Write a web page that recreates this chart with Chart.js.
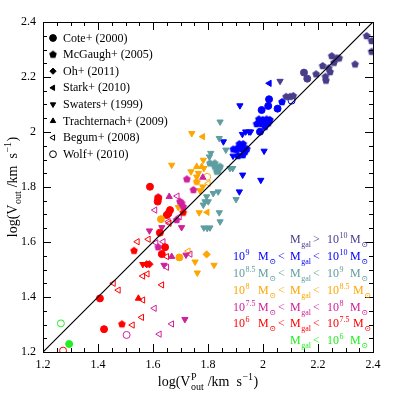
<!DOCTYPE html>
<html>
<head>
<meta charset="utf-8">
<script src="https://cdn.jsdelivr.net/npm/chart.js@4.4.0/dist/chart.umd.min.js"></script>
<style>
  html, body { margin: 0; padding: 0; background: #fff; }
</style>
</head>
<body>
<canvas id="vout-chart" width="395" height="395"></canvas>
<script>
// mass bins: 0 <1e6, 1 1e6-1e7.5, 2 1e7.5-1e8, 3 1e8-1e8.5, 4 1e8.5-1e9, 5 1e9-1e10, 6 >1e10
const binColors = ['#22ee22', '#ff0000', '#d0209a', '#ffa500', '#5f9ea0', '#0000ff', '#483d8b'];

const axisTicks = [1.2, 1.4, 1.6, 1.8, 2, 2.2, 2.4];

// [log Vp_out, log V_out, mass bin]
const cote = [
  [1.589,1.801,1],[1.619,1.759,1],[1.617,1.747,1],[1.662,1.716,1],[1.656,1.704,1],[1.650,1.698,1],
  [1.625,1.634,1],[1.644,1.581,1],[1.632,1.556,1],[1.407,1.395,1],[1.422,1.283,1],
  [1.629,1.683,3],[1.696,1.544,3],
  [2.022,2.119,5],[2.019,2.095,5],[1.995,2.080,5],[2.053,2.085,5],[1.989,2.001,5],
  [2.149,2.216,6],[2.161,2.194,6],
  [1.295,1.229,0]
];
const mcgaugh = [
  [2.377,2.349,6],[2.395,2.331,6],[2.395,2.292,6],[2.250,2.276,6],[2.268,2.268,6],[2.277,2.268,6],
  [2.258,2.252,6],[2.217,2.240,6],[2.335,2.246,6],[2.239,2.232,6],[2.244,2.218,6],[2.193,2.210,6],
  [2.227,2.201,6],[2.229,2.187,6],[2.084,2.128,6],[2.098,2.128,6],[2.110,2.131,6],
  [2.069,2.109,5],[1.985,2.046,5],[1.999,2.044,5],[2.013,2.046,5],[2.025,2.044,5],[1.977,2.029,5],
  [1.995,2.029,5],[2.011,2.029,5],[2.019,2.032,5],[2.007,2.019,5],[1.914,1.956,5],[1.928,1.956,5],
  [1.910,1.943,5],[1.923,1.938,5],[1.941,1.938,5],[1.935,1.928,5],[1.904,1.935,5],[1.892,1.937,5],
  [1.909,1.913,5],[1.927,1.916,5],
  [1.807,1.886,4],[1.825,1.874,4],[1.844,1.874,4],[1.832,1.856,4],[1.825,1.886,4],[1.837,1.859,4],
  [1.759,1.819,3],
  [1.723,1.828,2],[1.747,1.789,2],[1.619,1.763,2],[1.698,1.747,2],[1.704,1.741,2],[1.710,1.728,2],
  [1.686,1.680,2],[1.619,1.581,2],
  [1.710,1.707,1],[1.531,1.568,1],[1.487,1.301,1]
];
const oh = [[1.795,1.555,3],[1.577,1.519,1],[1.587,1.519,1]];
const stark = [[2.023,2.177,5],[1.781,1.983,3],[1.797,1.708,3]];
const swaters = [
  [2.062,2.185,6],
  [1.916,2.096,5],[1.937,2.001,5],[1.949,2.001,5],[1.955,2.001,5],[1.925,1.992,5],[1.856,1.965,5],
  [2.004,1.931,5],[1.926,1.844,5],[1.992,1.825,5],[1.914,1.783,5],[1.891,1.913,5],
  [1.844,2.037,4],[1.841,1.977,4],[1.865,1.935,4],[1.810,1.923,4],[1.890,1.868,4],[1.880,1.868,4],
  [1.805,1.910,4],[1.837,1.783,4],[1.819,1.777,4],[1.795,1.765,4],[1.789,1.747,4],[1.801,1.747,4],
  [1.783,1.735,4],[1.902,1.755,4],[1.844,1.674,4],[1.785,1.652,4],[1.807,1.652,4],[1.797,1.650,4],
  [1.841,1.707,4],
  [1.741,1.995,3],[1.668,1.880,3],[1.783,1.898,3],[1.785,1.868,3],[1.759,1.837,3],[1.738,1.856,3],
  [1.765,1.850,3],[1.781,1.801,3],[1.771,1.787,3],[1.692,1.726,3],[1.768,1.707,3],[1.753,1.528,3],
  [1.822,1.516,3],[1.761,1.488,3],
  [1.704,1.653,2],[1.587,1.641,2],[1.632,1.653,2],[1.720,1.553,2],[1.640,1.516,2],[1.716,1.319,2],
  [1.563,1.519,1]
];
const trachternach = [[1.759,1.874,3],[1.777,1.874,3],[1.781,1.835,2],[1.659,1.765,2],[1.668,1.547,2],[1.547,1.395,1]];
const begum = [
  [1.728,1.567,3],[1.801,1.813,3],
  [1.688,1.767,2],[1.607,1.716,2],[1.696,1.692,2],[1.656,1.674,2],[1.611,1.597,2],[1.637,1.601,2],
  [1.735,1.556,2],[1.650,1.508,2],[1.605,1.359,2],[1.668,1.302,2],[1.623,1.265,2],
  [1.543,1.601,1],[1.583,1.610,1],[1.650,1.547,1],[1.563,1.476,1],[1.579,1.484,1],[1.456,1.450,1],
  [1.474,1.425,1],[1.632,1.444,1],[1.563,1.389,1],[1.559,1.326,1],[1.525,1.298,1],[1.659,1.668,1]
];
const wolf = [[1.797,1.837,3],[2.104,2.114,5],[1.504,1.262,2],[1.273,1.205,1],[1.265,1.304,0]];

const SERIF = '"Liberation Serif", "DejaVu Serif", serif';

// filled pentagon marker as a small canvas
function pentagon(color, r) {
  const size = Math.ceil(2 * r + 2);
  const c = document.createElement('canvas');
  c.width = c.height = size;
  const g = c.getContext('2d');
  g.fillStyle = color;
  g.beginPath();
  for (let i = 0; i < 5; i++) {
    const a = -Math.PI / 2 + i * 2 * Math.PI / 5;
    const px = size / 2 + r * Math.cos(a), py = size / 2 + r * Math.sin(a);
    i ? g.lineTo(px, py) : g.moveTo(px, py);
  }
  g.closePath();
  g.fill();
  return c;
}
const pentImgs = binColors.map(c => pentagon(c, 4));
const pentBlack = pentagon('#000', 4);

const toPts = arr => arr.map(p => ({ x: p[0], y: p[1], b: p[2] }));
const colOf = ctx => ctx.raw ? binColors[ctx.raw.b] : '#000';

function survey(label, arr, style, rotation, open) {
  return {
    type: 'scatter',
    label: label,
    data: toPts(arr),
    pointStyle: style === 'pent' ? (ctx => ctx.raw ? pentImgs[ctx.raw.b] : 'circle') : style,
    rotation: rotation,
    pointRadius: style === 'circle' ? 3.5 : 3.6,
    pointBorderWidth: 1,
    pointBorderColor: colOf,
    pointBackgroundColor: open ? 'rgba(0,0,0,0)' : colOf
  };
}

const surveys = [
  { label: 'Cote+ (2000)', arr: cote, style: 'circle', rot: 0, open: false },
  { label: 'McGaugh+ (2005)', arr: mcgaugh, style: 'pent', rot: 0, open: false },
  { label: 'Oh+ (2011)', arr: oh, style: 'rectRot', rot: 0, open: false },
  { label: 'Stark+ (2010)', arr: stark, style: 'triangle', rot: -90, open: false },
  { label: 'Swaters+ (1999)', arr: swaters, style: 'triangle', rot: 180, open: false },
  { label: 'Trachternach+ (2009)', arr: trachternach, style: 'triangle', rot: 0, open: false },
  { label: 'Begum+ (2008)', arr: begum, style: 'triangle', rot: -90, open: true },
  { label: 'Wolf+ (2010)', arr: wolf, style: 'circle', rot: 0, open: true }
];

// rich text: parts = [text, mode, extra]; mode n / sup / sub / both (sup=text, sub=extra)
function richWidth(ctx, parts, size) {
  const small = Math.round(size * 0.68);
  let w = 0;
  parts.forEach(p => {
    if (p[1] === 'n') { ctx.font = size + 'px ' + SERIF; w += ctx.measureText(p[0]).width; }
    else {
      ctx.font = small + 'px ' + SERIF;
      const a = ctx.measureText(p[0]).width;
      const b = p[1] === 'both' ? ctx.measureText(p[2]).width : 0;
      w += Math.max(a, b) + 1;
    }
  });
  return w;
}
function drawRich(ctx, parts, x, y, size) {
  const small = Math.round(size * 0.68);
  ctx.textBaseline = 'alphabetic';
  ctx.textAlign = 'left';
  parts.forEach(p => {
    if (p[1] === 'n') {
      ctx.font = size + 'px ' + SERIF;
      ctx.fillText(p[0], x, y);
      x += ctx.measureText(p[0]).width;
    } else {
      ctx.font = small + 'px ' + SERIF;
      let w = 0;
      if (p[1] === 'sup' || p[1] === 'both') {
        ctx.fillText(p[0], x + 0.5, y - size * 0.42);
        w = ctx.measureText(p[0]).width;
      }
      if (p[1] === 'sub') {
        ctx.fillText(p[0], x + 0.5, y + size * 0.3);
        w = ctx.measureText(p[0]).width;
      }
      if (p[1] === 'both') {
        ctx.fillText(p[2], x + 0.5, y + size * 0.3);
        w = Math.max(w, ctx.measureText(p[2]).width);
      }
      x += w + 1;
    }
  });
}

// mass-bin captions, bottom right
const MS = ['M', 'n'], SUN = ['\u2299', 'sub'], MGAL = ['gal', 'sub'];
const binCaptions = [
  { color: binColors[6], y: 243, cells: [[290, [MS, MGAL]], [313, [['>', 'n']]], [327, [['10', 'n'], ['10', 'sup']]], [350, [MS, SUN]]] },
  { color: binColors[5], y: 260, cells: [[233, [['10', 'n'], ['9', 'sup']]], [258, [MS, SUN]], [278, [['<', 'n']]], [290, [MS, MGAL]], [313, [['<', 'n']]], [327, [['10', 'n'], ['10', 'sup']]], [350, [MS, SUN]]] },
  { color: binColors[4], y: 277, cells: [[233, [['10', 'n'], ['8.5', 'sup']]], [258, [MS, SUN]], [278, [['<', 'n']]], [290, [MS, MGAL]], [313, [['<', 'n']]], [327, [['10', 'n'], ['9', 'sup']]], [350, [MS, SUN]]] },
  { color: binColors[3], y: 294, cells: [[233, [['10', 'n'], ['8', 'sup']]], [258, [MS, SUN]], [278, [['<', 'n']]], [290, [MS, MGAL]], [313, [['<', 'n']]], [327, [['10', 'n'], ['8.5', 'sup']]], [353, [MS, SUN]]] },
  { color: binColors[2], y: 311, cells: [[233, [['10', 'n'], ['7.5', 'sup']]], [258, [MS, SUN]], [278, [['<', 'n']]], [290, [MS, MGAL]], [313, [['<', 'n']]], [327, [['10', 'n'], ['8', 'sup']]], [350, [MS, SUN]]] },
  { color: binColors[1], y: 327, cells: [[233, [['10', 'n'], ['6', 'sup']]], [258, [MS, SUN]], [278, [['<', 'n']]], [290, [MS, MGAL]], [313, [['<', 'n']]], [327, [['10', 'n'], ['7.5', 'sup']]], [353, [MS, SUN]]] },
  { color: binColors[0], y: 344, cells: [[290, [MS, MGAL]], [313, [['<', 'n']]], [327, [['10', 'n'], ['6', 'sup']]], [350, [MS, SUN]]] }
];

const xTitle = [['log(V', 'n'], ['P', 'both', 'out'], [' /km  s', 'n'], ['\u22121', 'sup'], [')', 'n']];
const yTitle = [['log(V', 'n'], ['out', 'sub'], [' /km  s', 'n'], ['\u22121', 'sup'], [')', 'n']];

const framePlugin = {
  id: 'frame',
  afterDatasetsDraw(chart) {
    const { ctx, chartArea: a, scales: { x, y } } = chart;
    ctx.save();
    ctx.strokeStyle = '#000';
    ctx.lineWidth = 1;
    ctx.strokeRect(a.left + 0.5, a.top + 0.5, a.right - a.left, a.bottom - a.top);
    ctx.beginPath();
    for (let i = 0; i <= 24; i++) {
      const v = 1.2 + i * 0.05;
      const len = i % 4 === 0 ? 8 : 4;
      const px = Math.round(x.getPixelForValue(v)) + 0.5;
      const py = Math.round(y.getPixelForValue(v)) + 0.5;
      ctx.moveTo(px, a.bottom); ctx.lineTo(px, a.bottom - len);
      ctx.moveTo(px, a.top); ctx.lineTo(px, a.top + len);
      ctx.moveTo(a.left, py); ctx.lineTo(a.left + len, py);
      ctx.moveTo(a.right, py); ctx.lineTo(a.right - len, py);
    }
    ctx.stroke();

    // survey legend, top left
    ctx.fillStyle = '#000';
    surveys.forEach((s, i) => {
      const ly = 38 + i * 16.6;
      if (s.style === 'pent') {
        ctx.drawImage(pentBlack, 53 - pentBlack.width / 2, ly - pentBlack.height / 2);
      } else {
        ctx.strokeStyle = '#000';
        ctx.fillStyle = s.open ? 'rgba(0,0,0,0)' : '#000';
        ctx.lineWidth = 1;
        Chart.helpers.drawPoint(ctx, { pointStyle: s.style, rotation: s.rot, radius: s.style === 'circle' ? 3.4 : 3.1, borderWidth: 1 }, 53, ly);
      }
      ctx.fillStyle = '#000';
      ctx.font = '12px ' + SERIF;
      ctx.textBaseline = 'middle';
      ctx.textAlign = 'left';
      ctx.fillText(s.label, 63, ly + 0.5);
    });

    // mass-bin captions
    binCaptions.forEach(row => {
      ctx.fillStyle = row.color;
      row.cells.forEach(cell => drawRich(ctx, cell[1], cell[0], row.y, 12));
    });

    // axis titles
    ctx.fillStyle = '#000';
    const xw = richWidth(ctx, xTitle, 14);
    drawRich(ctx, xTitle, 208 - xw / 2, 386, 14);
    ctx.translate(17, 187);
    ctx.rotate(-Math.PI / 2);
    const yw = richWidth(ctx, yTitle, 14);
    drawRich(ctx, yTitle, -yw / 2, 0, 14);
    ctx.restore();
  }
};

const fmt = v => String(parseFloat(Number(v).toFixed(2)));

new Chart(document.getElementById('vout-chart'), {
  data: {
    datasets: [
      {
        type: 'line',
        label: '1:1',
        data: [{ x: 1.2, y: 1.2 }, { x: 2.4, y: 2.4 }],
        borderColor: '#000',
        borderWidth: 1.2,
        pointRadius: 0,
        fill: false
      },
      ...surveys.map(s => survey(s.label, s.arr, s.style, s.rot, s.open))
    ]
  },
  options: {
    responsive: false,
    animation: false,
    events: [],
    layout: { padding: { top: 22, right: 22, left: 0, bottom: 0 } },
    plugins: { legend: { display: false }, tooltip: { enabled: false } },
    scales: {
      x: {
        type: 'linear',
        min: 1.2, max: 2.4,
        afterBuildTicks: s => { s.ticks = axisTicks.map(v => ({ value: v })); },
        afterFit: s => { s.height = 43; },
        grid: { display: false, drawTicks: false },
        border: { display: false },
        ticks: { color: '#000', padding: 6, maxRotation: 0, font: { family: SERIF, size: 12 }, callback: fmt }
      },
      y: {
        type: 'linear',
        min: 1.2, max: 2.4,
        afterBuildTicks: s => { s.ticks = axisTicks.map(v => ({ value: v })); },
        afterFit: s => { s.width = 43; },
        grid: { display: false, drawTicks: false },
        border: { display: false },
        ticks: { color: '#000', padding: 7, font: { family: SERIF, size: 12 }, callback: fmt }
      }
    }
  },
  plugins: [framePlugin]
});
</script>
</body>
</html>
